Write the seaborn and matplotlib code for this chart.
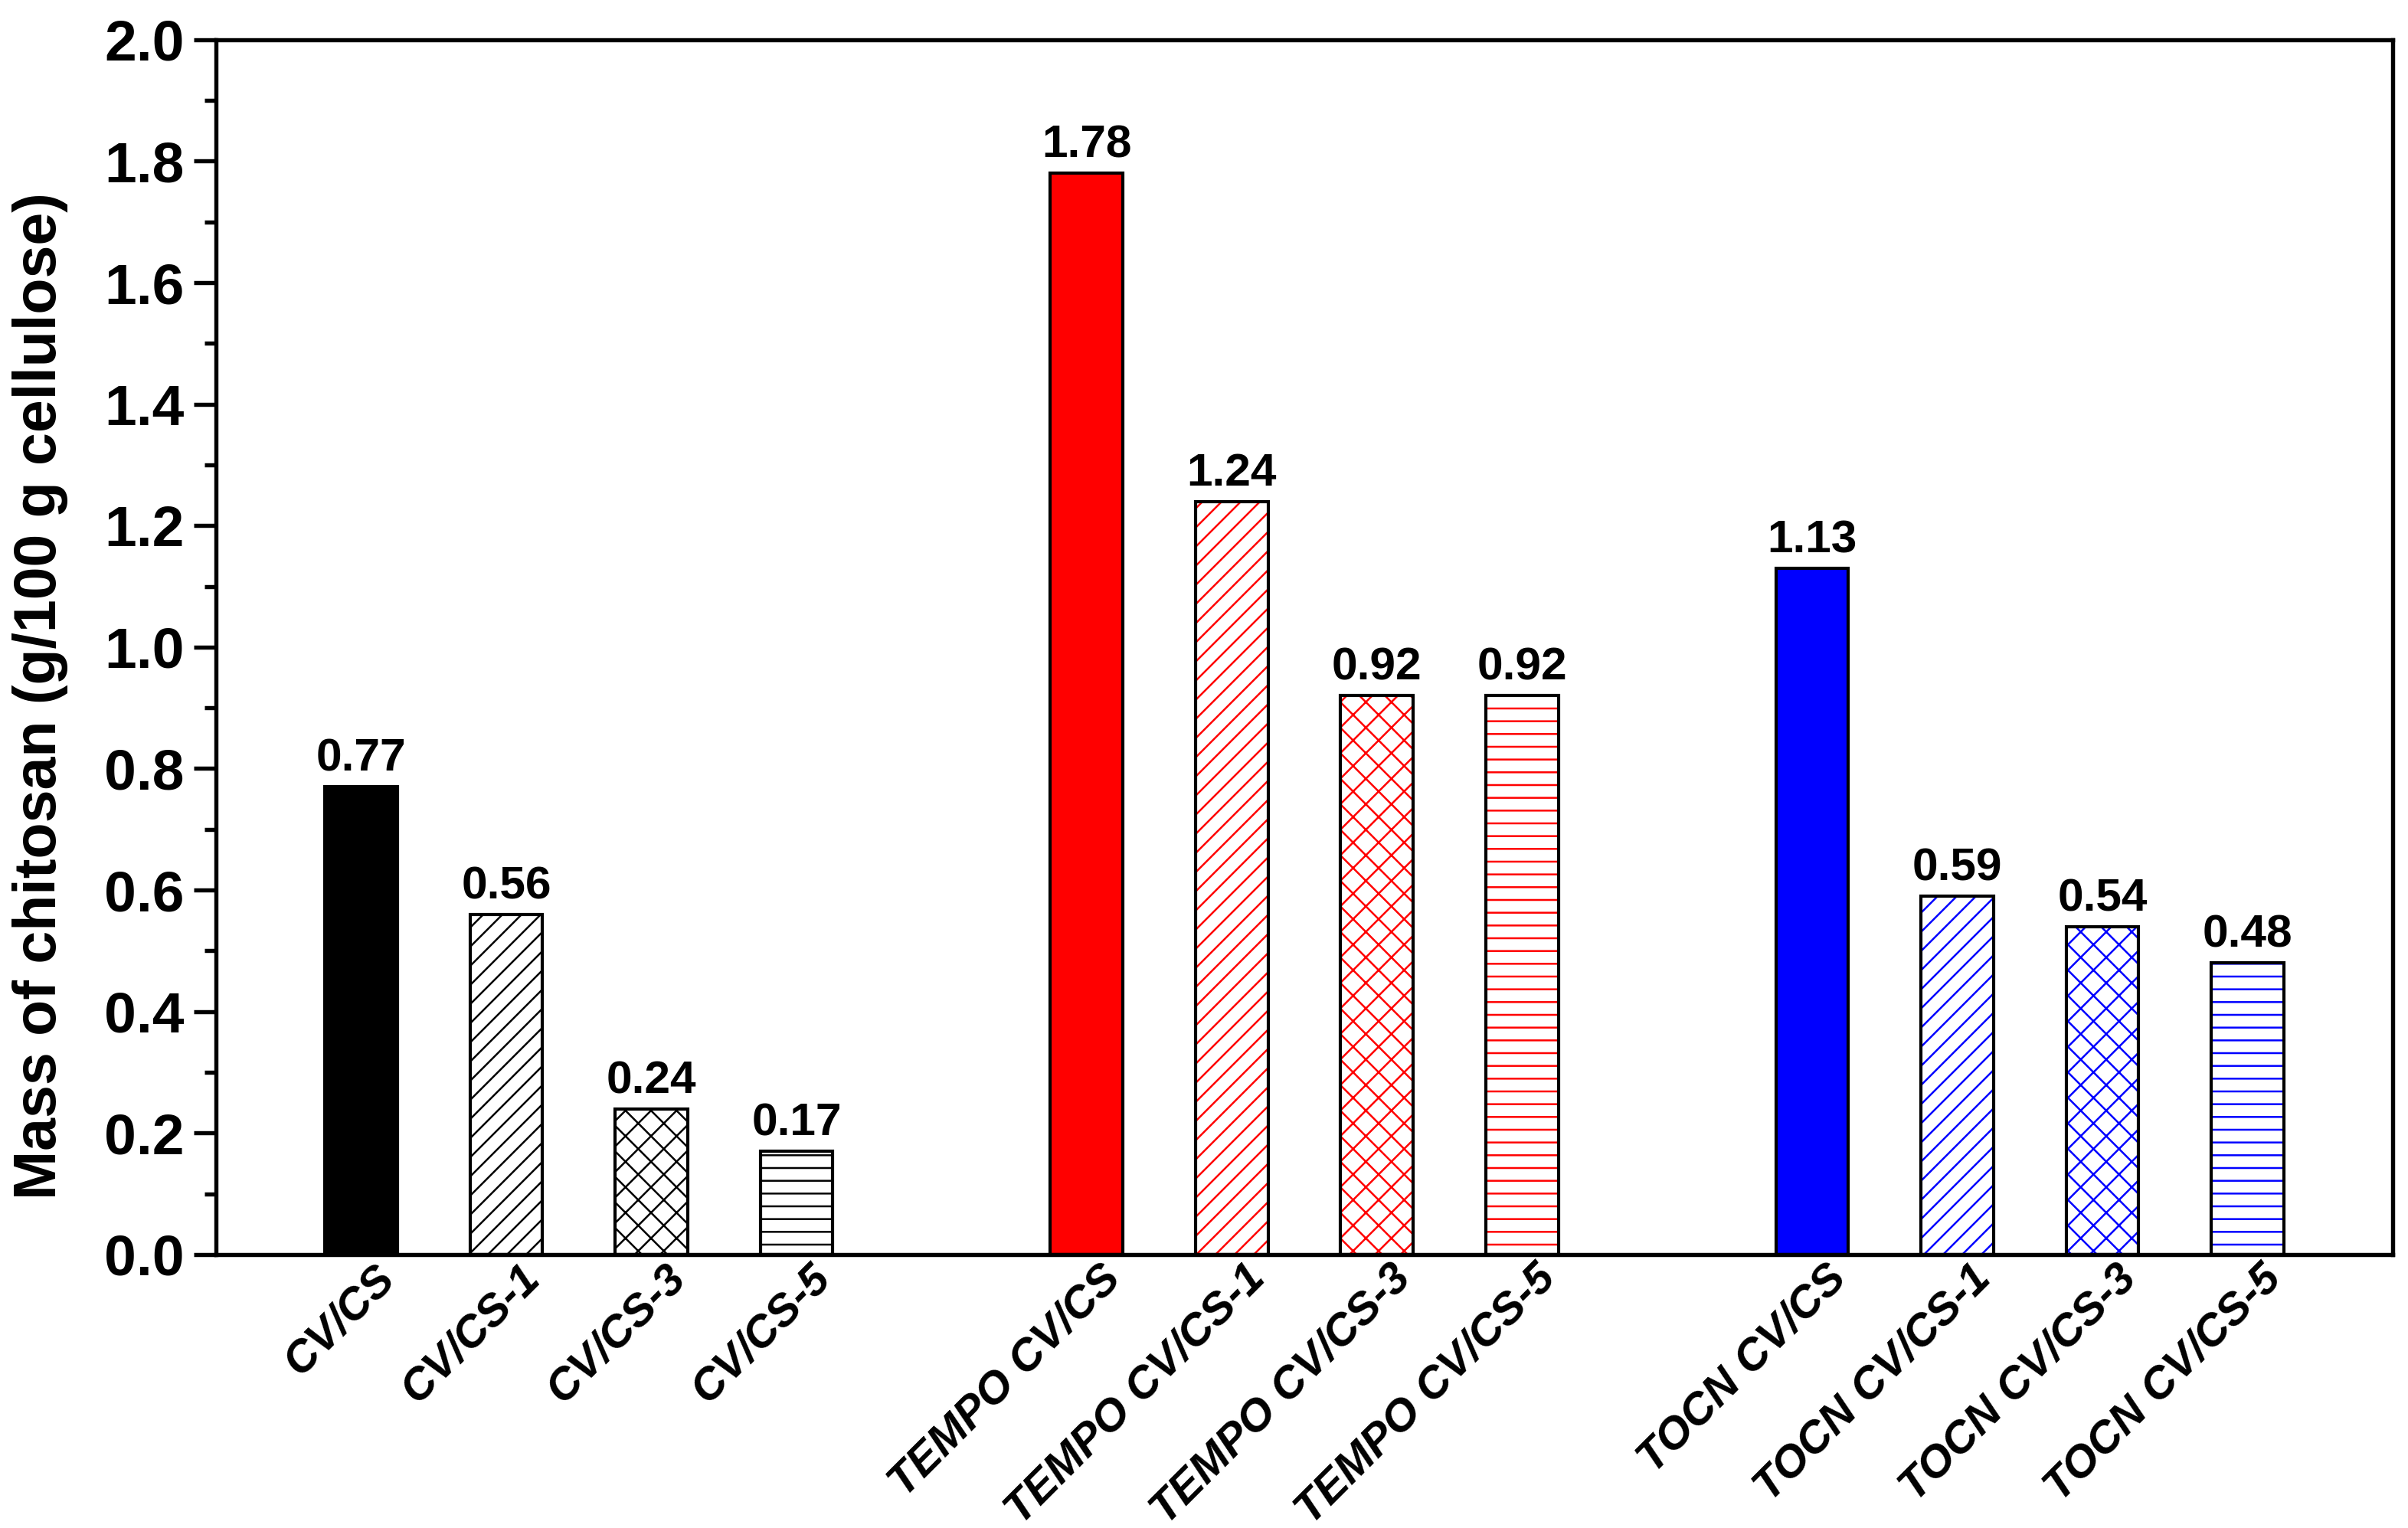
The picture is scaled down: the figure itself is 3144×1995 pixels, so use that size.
import pandas as pd
import seaborn as sns
import matplotlib.pyplot as plt
from matplotlib.ticker import MultipleLocator
from matplotlib.transforms import ScaledTranslation

# Data
samples = ['CV/CS', 'CV/CS-1', 'CV/CS-3', 'CV/CS-5',
           'TEMPO CV/CS', 'TEMPO CV/CS-1', 'TEMPO CV/CS-3', 'TEMPO CV/CS-5',
           'TOCN CV/CS', 'TOCN CV/CS-1', 'TOCN CV/CS-3', 'TOCN CV/CS-5']
mass = [0.77, 0.56, 0.24, 0.17,
        1.78, 1.24, 0.92, 0.92,
        1.13, 0.59, 0.54, 0.48]
positions = [0, 1, 2, 3, 5, 6, 7, 8, 10, 11, 12, 13]
group_colors = ['black'] * 4 + ['red'] * 4 + ['blue'] * 4
hatches = ['', '////', 'xxx', '---'] * 3

df = pd.DataFrame({'pos': positions, 'mass': mass, 'sample': samples})

sns.set_style('ticks')
plt.rcParams['font.family'] = ['Liberation Sans', 'DejaVu Sans']
plt.rcParams['font.weight'] = 'bold'
plt.rcParams['hatch.linewidth'] = 0.6
for k in ['text.color', 'axes.labelcolor', 'xtick.color', 'ytick.color',
          'axes.edgecolor']:
    plt.rcParams[k] = 'black'

fig = plt.figure(figsize=(3145 / 300, 1995 / 300), dpi=300)
ax = fig.add_axes([0.0897, 0.179, 0.9036, 0.795])

# hatched / filled bars (hatch takes the edge colour)
sns.barplot(data=df, x='pos', y='mass', native_scale=True, width=0.5,
            color='white', linewidth=0, errorbar=None, ax=ax)
bars = ax.containers[0]
for p, c, h in zip(bars, group_colors, hatches):
    p.set_edgecolor(c)
    p.set_hatch(h)
    p.set_facecolor(c if h == '' else 'white')

# black outlines on top
sns.barplot(data=df, x='pos', y='mass', native_scale=True, width=0.5,
            fill=False, color='black', linewidth=1.0, errorbar=None, ax=ax)

ax.bar_label(bars, labels=[f'{v:.2f}' for v in mass], padding=2,
             fontsize=14.5, fontweight='bold')

ax.set_xlim(-1, 14)
ax.set_ylim(0, 2.0)
ax.yaxis.set_major_locator(MultipleLocator(0.2))
ax.yaxis.set_minor_locator(MultipleLocator(0.1))
ax.set_yticklabels([f'{t:.1f}' for t in ax.get_yticks()])
ax.tick_params(axis='y', which='major', direction='out', length=7, width=1.3,
               labelsize=18, pad=3)
ax.tick_params(axis='y', which='minor', direction='out', length=3.5, width=1.3)
ax.tick_params(axis='x', length=0, pad=1)
ax.set_xticks(positions)
ax.set_xticklabels(samples, rotation=45, ha='right', rotation_mode='anchor',
                   fontsize=14, fontweight='bold', fontstyle='italic')
shift = ScaledTranslation(4 / 72, 0, fig.dpi_scale_trans)
for lbl in ax.get_xticklabels():
    lbl.set_transform(lbl.get_transform() + shift)
for s in ax.spines.values():
    s.set_visible(True)
    s.set_linewidth(1.3)

ax.set_xlabel('')
ax.set_ylabel('Mass of chitosan (g/100 g cellulose)', fontsize=18.5,
              fontweight='bold')
ax.yaxis.set_label_coords(-0.068, 0.46)

fig.savefig('out.png', dpi=300)
